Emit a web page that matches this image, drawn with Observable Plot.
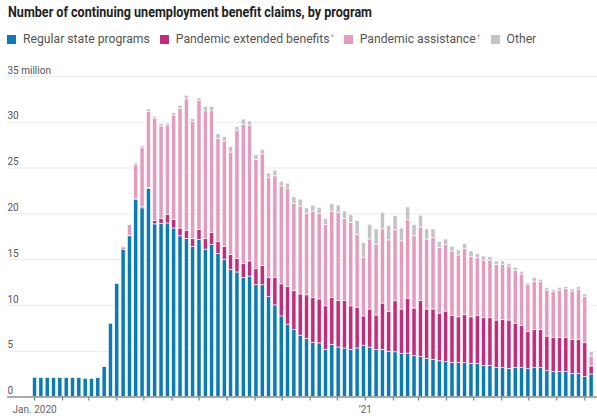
<!DOCTYPE html>
<html>
<head>
<meta charset="utf-8">
<script src="https://cdn.jsdelivr.net/npm/d3@7"></script>
<script src="https://cdn.jsdelivr.net/npm/@observablehq/plot@0.6"></script>
<style>
  html, body { margin: 0; padding: 0; background: #fff; }
  body { width: 597px; height: 420px; position: relative; overflow: hidden; font-family: Roboto, "Liberation Sans", sans-serif; }
  #title { position: absolute; left: 8px; top: 4px; font-size: 14px; font-weight: bold; color: #222; white-space: nowrap; transform-origin: 0 0; }
  #legend { position: absolute; left: 7px; top: 32px; display: flex; align-items: center; font-size: 12.2px; color: #555; white-space: nowrap; }
  .item { display: flex; align-items: center; margin-right: 10px; }
  .sw { width: 9px; height: 9px; margin-right: 7px; display: inline-block; }
  sup { font-size: 7px; color: #999; vertical-align: 4px; margin-left: 1px; }
  #chart { position: absolute; left: 0; top: 56px; }
</style>
</head>
<body>
<div id="title">Number of continuing unemployment benefit claims, by program</div>
<div id="legend"></div>
<div id="chart"></div>
<script>
// Data: millions of continuing claims, weekly, first week ending 2020-01-04
const firstWeekEnding = "2020-01-04";
const programs = ["Regular state programs", "Pandemic extended benefits", "Pandemic assistance", "Other"];
const footnotes = ["", "*", "†", ""];
const colors = ["#0a7bb3", "#c22d7b", "#e39cbd", "#c4c4c4"];

const regular = [2.10,2.07,2.07,2.07,2.07,2.07,2.07,2.07,1.98,1.98,
  2.07,3.26,8.00,12.35,16.07,17.55,21.56,20.60,22.75,18.85,
  18.90,18.95,18.40,17.55,17.27,16.40,17.16,16.10,16.60,15.60,
  15.00,13.90,13.60,13.00,13.15,12.20,12.20,10.90,10.00,8.80,
  7.90,7.30,6.70,6.35,5.90,5.85,5.15,5.70,5.40,5.30,
  5.15,5.30,5.60,5.40,5.15,5.15,4.90,4.88,4.70,4.75,
  4.45,4.35,4.17,4.06,3.90,3.80,3.70,3.70,3.70,3.62,
  3.62,3.40,3.40,3.19,3.15,3.08,3.19,3.15,3.04,3.15,
  3.15,2.82,2.71,2.71,2.71,2.53,2.53,2.16,2.46];
const extended = [0,0,0,0,0,0,0,0,0,0,
  0,0,0,0,0.15,0.05,0.04,0.12,0.05,0.35,
  0.55,0.95,0.95,0.85,0.88,0.87,1.06,1.17,1.30,1.30,
  1.40,1.60,1.50,1.50,1.65,1.75,2.10,2.10,3.00,3.50,
  4.10,4.30,4.50,4.75,4.90,4.80,4.75,5.10,5.10,5.20,
  4.75,4.45,3.20,4.15,3.75,5.05,4.40,5.57,4.85,6.00,
  5.21,6.15,5.38,5.49,5.20,5.53,5.16,5.00,5.23,5.08,
  5.20,5.20,5.20,5.16,5.28,5.27,4.81,4.58,4.03,4.18,
  4.18,3.78,3.75,3.75,3.75,3.71,3.71,3.71,0.87];
const assistance = [0,0,0,0,0,0,0,0,0,0,
  0,0,0,0,0.15,1.20,3.70,6.45,8.30,11.20,
  10.10,9.75,11.40,13.05,14.35,12.78,14.08,13.93,13.30,11.30,
  11.50,11.20,14.00,15.20,14.80,11.95,12.20,10.90,11.10,10.70,
  10.70,9.50,9.60,8.90,9.45,9.35,8.90,9.45,9.60,8.95,
  9.10,7.95,6.40,7.65,7.70,8.10,7.80,7.75,7.45,8.55,
  7.89,8.00,7.65,7.80,7.15,7.27,7.04,6.75,7.27,6.56,
  6.38,6.30,6.30,6.05,5.97,5.90,5.80,5.64,5.18,5.27,
  5.20,5.03,4.98,5.17,5.31,5.28,5.46,5.03,1.09];
const other = [0,0,0,0,0,0,0,0,0,0,
  0,0,0,0,0.05,0.05,0.20,0.20,0.30,0.20,
  0.25,0.20,0.25,0.35,0.40,0.30,0.30,0.50,0.50,0.50,
  0.50,0.60,0.35,0.60,0.50,0.50,0.50,0.50,0.60,0.50,
  0.60,0.70,0.75,0.60,0.65,0.65,0.65,0.85,0.80,0.80,
  0.90,1.50,1.60,1.60,1.70,1.80,1.55,1.55,1.40,1.40,
  1.25,1.30,1.10,0.95,0.65,0.60,0.50,0.55,0.50,0.64,
  0.40,0.44,0.36,0.40,0.40,0.29,0.30,0.30,0.15,0.37,
  0.27,0.27,0.26,0.27,0.23,0.25,0.30,0.30,0.48];

const yTicks = [0, 5, 10, 15, 20, 25, 30, 35];
const xLabels = {"2020-01": "Jan. 2020", "2021-01": "\u201921"};

// Build a tidy table
const series = [regular, extended, assistance, other];
const start0 = new Date(firstWeekEnding + "T00:00:00Z");
const rows = [];
regular.forEach((_, i) => {
  const weekEnd = d3.utcDay.offset(start0, 7 * i);
  const x1 = d3.utcDay.offset(weekEnd, -6);
  const x2 = d3.utcDay.offset(weekEnd, 1);
  series.forEach((s, k) => {
    if (s[i] > 0) rows.push({x1, x2, key: +x1, program: programs[k], value: s[i]});
  });
});

const months = d3.utcMonth.range(new Date("2020-01-01T00:00:00Z"), new Date("2021-09-02T00:00:00Z"));

// Legend
const legend = document.getElementById("legend");
programs.forEach((p, k) => {
  const it = document.createElement("div");
  it.className = "item";
  it.innerHTML = `<span class="sw" style="background:${colors[k]}"></span><span>${p}${footnotes[k] ? `<sup>${footnotes[k]}</sup>` : ""}</span>`;
  legend.appendChild(it);
});

const chart = Plot.plot({
  width: 597,
  height: 364,
  marginTop: 20,
  marginBottom: 23.5,
  marginLeft: 7,
  marginRight: 0,
  style: {color: "#666", fontSize: "10px", fontFamily: "Roboto, sans-serif", background: "transparent"},
  x: {
    type: "utc",
    domain: [new Date("2019-12-02T00:00:00Z"), new Date("2021-09-15T00:00:00Z")],
    ticks: months,
    tickSize: 4,
    tickPadding: 5,
    tickFormat: d => xLabels[d3.utcFormat("%Y-%m")(d)] || "",
    label: null
  },
  y: {domain: [0, 35], axis: null},
  color: {domain: programs, range: colors},
  marks: [
    Plot.ruleY(yTicks.filter(d => d > 0), {y: d => d, stroke: "#ebebeb", strokeWidth: 1}),
    Plot.text(yTicks, {
      y: d => d,
      text: d => d === 35 ? "35 million" : String(d),
      frameAnchor: "left",
      textAnchor: "start",
      dy: -6,
      fill: "#555",
      fontSize: 10
    }),
    Plot.rectY(rows, {
      x: "key",
      x1: "x1",
      x2: "x2",
      y: "value",
      fill: "program",
      stroke: "white",
      strokeWidth: 0.6,
      insetLeft: 1.1,
      insetRight: 1.1
    }),
    Plot.ruleY([0], {stroke: "#8f8f8f", strokeWidth: 1.5})
  ]
});
document.getElementById("chart").appendChild(chart);

// Fit title to the reference width
const t = document.getElementById("title");
const w = t.getBoundingClientRect().width;
t.style.transform = `scaleX(${364 / w})`;
</script>
</body>
</html>
